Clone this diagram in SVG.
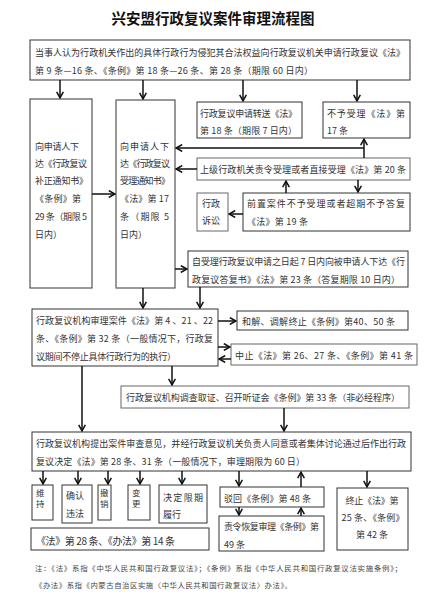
<svg xmlns="http://www.w3.org/2000/svg" width="445" height="599" viewBox="0 0 445 599">
<defs>
<marker id="ah" viewBox="0 0 8 8" refX="7.2" refY="4" markerWidth="8" markerHeight="8" markerUnits="userSpaceOnUse" orient="auto">
<path d="M1,0.6 L7,4 L1,7.4" fill="none" stroke="#111" stroke-width="1.6"/>
</marker>
<style>
text{font-family:"Noto Sans CJK SC","Noto Sans",sans-serif;font-size:9px;fill:#333;dominant-baseline:central}
.t{font-size:14.5px;font-weight:bold;fill:#111}
.n{font-size:7.4px;fill:#444}
.v{font-size:8.5px}
.b{fill:#fff;stroke:#333;stroke-width:1}
.g{fill:#fff;stroke:#666;stroke-width:1}
#conn line{stroke:#111;stroke-width:1.5;marker-end:url(#ah)}
</style>
</defs>
<rect width="445" height="599" fill="#fff"/>
<text class="t" x="213" y="17" text-anchor="middle">兴安盟行政复议案件审理流程图</text>

<g id="n-apply"><rect class="b" x="30" y="40" width="380" height="40"/>
<text x="35" y="52" textLength="370">当事人认为行政机关作出的具体行政行为侵犯其合法权益向行政复议机关申请行政复议《法》</text>
<text x="35" y="70" textLength="278">第 9 条—16 条、《条例》第 18 条—26 条、第 28 条（期限 60 日内）</text></g>

<g id="n-buzheng"><rect class="b" x="30" y="99" width="62" height="189"/>
<text x="35" y="146" textLength="44">向申请人下</text>
<text x="35" y="163" textLength="52">达《行政复议</text>
<text x="35" y="180" textLength="53">补正通知书》</text>
<text x="35" y="198" textLength="46">《条例》第</text>
<text x="35" y="216" textLength="52">29 条（期限 5</text>
<text x="35" y="234">日内）</text></g>

<g id="n-shouli"><rect class="b" x="116" y="100" width="59" height="188"/>
<line x1="116" y1="100" x2="116" y2="288" stroke="#999" stroke-width="1.6"/>
<text x="120" y="146" textLength="49">向申请人下</text>
<text x="120" y="163" textLength="50">达《行政复议</text>
<text x="120" y="180" textLength="50">受理通知书》</text>
<text x="120" y="198" textLength="49">《法》第 17</text>
<text x="120" y="216" textLength="49">条（期限 5</text>
<text x="120" y="234">日内）</text></g>

<g id="n-zhuansong"><rect class="b" x="197" y="102" width="105" height="36"/>
<text x="200" y="113" textLength="97">行政复议申请转送《法》</text>
<text x="200" y="130" textLength="97">第 18 条（期限 7 日内）</text></g>

<g id="n-buyu"><rect class="b" x="323" y="102" width="87" height="36"/>
<text x="327" y="113" textLength="78">不予受理《法》第</text>
<text x="327" y="130">17 条</text></g>

<g id="n-shangji"><rect class="g" x="197" y="158" width="213" height="22"/>
<text x="200" y="169" textLength="206">上级行政机关责令受理或者直接受理《法》第 20 条</text></g>

<g id="n-susong"><rect class="g" x="197" y="193" width="31" height="38"/>
<text x="202" y="203">行政</text>
<text x="202" y="220">诉讼</text></g>

<g id="n-qianzhi"><rect class="b" x="243" y="193" width="167" height="38"/>
<text x="247" y="203" textLength="158">前置案件不予受理或者超期不予答复</text>
<text x="247" y="221" textLength="61">《法》第 19 条</text></g>

<g id="n-dafu"><rect class="b" x="188" y="251" width="220" height="36"/>
<text x="192" y="261" textLength="213">自受理行政复议申请之日起 7 日内向被申请人下达《行</text>
<text x="192" y="279" textLength="208">政复议答复书》《法》第 23 条（答复期限 10 日内）</text></g>

<g id="n-shenli"><rect class="b" x="32" y="309" width="186" height="57"/>
<text x="36" y="320" textLength="177">行政复议机构审理案件《法》第 4 、21 、22</text>
<text x="36" y="338" textLength="177">条、《条例》第 32 条（一般情况下，行政复</text>
<text x="36" y="356" textLength="140">议期间不停止具体行政行为的执行）</text></g>

<g id="n-hejie"><rect class="b" x="237" y="311" width="171" height="19"/>
<text x="242" y="321" textLength="153">和解、调解终止《条例》第40、50 条</text></g>

<g id="n-zhongzhi"><rect class="g" x="231" y="344" width="186" height="21"/>
<text x="235" y="355" textLength="178">中止《法》第 26、27 条、《条例》第 41 条</text></g>

<g id="n-diaocha"><rect class="g" x="121" y="386" width="288" height="22"/>
<text x="126" y="397" textLength="274">行政复议机构调查取证、召开听证会《条例》第 33 条（非必经程序）</text></g>

<g id="n-tichu"><rect class="b" x="32" y="432" width="379" height="39"/>
<text x="36" y="443" textLength="370">行政复议机构提出案件审查意见，并经行政复议机关负责人同意或者集体讨论通过后作出行政</text>
<text x="36" y="461" textLength="269">复议决定《法》第 28 条、31 条（一般情况下，审理期限为 60 日）</text></g>

<g id="n-weichi"><rect class="b" x="32" y="485" width="21" height="35"/>
<text class="v" x="36" y="492">维</text><text class="v" x="36" y="503">持</text></g>

<g id="n-queren"><rect class="b" x="62" y="485" width="30" height="38"/>
<text x="66" y="495">确认</text><text x="66" y="513">违法</text></g>

<g id="n-chexiao"><rect class="b" x="98" y="485" width="13" height="35"/>
<text class="v" x="100" y="492">撤</text><text class="v" x="100" y="503">销</text></g>

<g id="n-biangeng"><rect class="b" x="128" y="485" width="22" height="35"/>
<text class="v" x="132" y="492">变</text><text class="v" x="132" y="503">更</text></g>

<g id="n-lvxing"><rect class="b" x="159" y="485" width="48" height="38"/>
<text x="163" y="497" textLength="40">决定限期</text><text x="163" y="514">履行</text></g>

<g id="n-fa28"><rect class="b" x="31" y="528" width="178" height="22"/>
<text x="36" y="540" style="font-size:10px" textLength="139">《法》第 28 条、《办法》第 14 条</text></g>

<g id="n-bohui"><rect class="b" x="220" y="487" width="104" height="20"/>
<text x="224" y="498" textLength="87">驳回《条例》第 48 条</text></g>

<g id="n-huifu"><rect class="b" x="219" y="516" width="105" height="35"/>
<text x="224" y="526" textLength="95">责令恢复审理《条例》第</text>
<text x="224" y="544">49 条</text></g>

<g id="n-zhongjie"><rect class="b" x="337" y="488" width="71" height="62"/>
<text x="372" y="500" text-anchor="middle" textLength="53">终止《法》第</text>
<text x="373" y="517" text-anchor="middle" textLength="63">25 条、《条例》</text>
<text x="372" y="534" text-anchor="middle">第 42 条</text></g>

<g id="notes">
<text class="n" x="35" y="567" textLength="367">注：《法》系指《中华人民共和国行政复议法》；《条例》系指《中华人民共和国行政复议法实施条例》；</text>
<text class="n" x="35" y="584" textLength="257">《办法》系指《内蒙古自治区实施〈中华人民共和国行政复议法〉办法》。</text>
</g>

<g id="conn">
<line x1="60" y1="80" x2="60" y2="98"/>
<line x1="143" y1="80" x2="143" y2="99"/>
<line x1="243" y1="80" x2="243" y2="101"/>
<line x1="357" y1="80" x2="357" y2="101"/>
<line x1="92" y1="194" x2="115" y2="194"/>
<line x1="364" y1="158" x2="364" y2="139"/>
<line x1="364" y1="148" x2="176" y2="148"/>
<line x1="197" y1="169" x2="176" y2="169"/>
<line x1="243" y1="214" x2="229" y2="214"/>
<line x1="286" y1="193" x2="286" y2="181"/>
<line x1="358" y1="180" x2="358" y2="192"/>
<line x1="175" y1="269" x2="187" y2="269"/>
<line x1="143" y1="288" x2="143" y2="308"/>
<line x1="200" y1="287" x2="200" y2="308"/>
<line x1="218" y1="321" x2="236" y2="321"/>
<line x1="218" y1="347" x2="230" y2="347"/>
<line x1="231" y1="359" x2="219" y2="359"/>
<line x1="82" y1="366" x2="82" y2="431"/>
<line x1="172" y1="366" x2="172" y2="385"/>
<line x1="284" y1="408" x2="284" y2="431"/>
<line x1="43" y1="471" x2="43" y2="484"/>
<line x1="78" y1="471" x2="78" y2="484"/>
<line x1="108" y1="471" x2="108" y2="484"/>
<line x1="140" y1="471" x2="140" y2="484"/>
<line x1="182" y1="471" x2="182" y2="484"/>
<line x1="239" y1="471" x2="239" y2="486"/>
<line x1="301" y1="487" x2="301" y2="472"/>
<line x1="239" y1="507" x2="239" y2="515"/>
<line x1="301" y1="516" x2="301" y2="508"/>
<line x1="367" y1="471" x2="367" y2="487"/>
</g>
</svg>
